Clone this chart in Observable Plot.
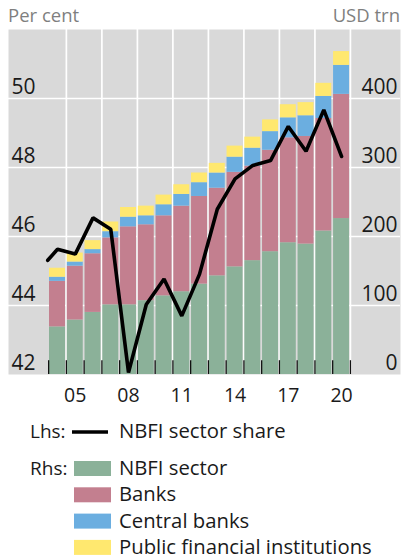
<!DOCTYPE html>
<html><head><meta charset="utf-8">
<script src="https://cdn.jsdelivr.net/npm/d3@7"></script>
<script src="https://cdn.jsdelivr.net/npm/@observablehq/plot@0.6"></script>
<style>
body{margin:0;background:#fff;}
#chart svg{display:block}
</style></head><body><div id="chart"></div>
<script>
// ---- data ----
const years = [2004,2005,2006,2007,2008,2009,2010,2011,2012,2013,2014,2015,2016,2017,2018,2019,2020];
const nbfi    = [69,79,90,101,101,107,114,120,131,143,156,165,178,191,189,208,226];
const banks   = [66,78,85,97,113,110,116,124,127,127,137,137,147,152,156,163,180];
const central = [6,6,6,9,14,13,16,17,20,22,22,26,27,29,30,32,42];
const pfi     = [13,13,13,14,14,14,14,14,14,14,16,16,17,19,19,19,20];
const shareYears = [2003.45,2004,2005,2006,2007,2008,2009,2010,2011,2012,2013,2014,2015,2016,2017,2018,2019,2020];
const share      = [45.31,45.63,45.49,46.54,46.21,42.06,44.03,44.77,43.70,44.91,46.79,47.67,48.06,48.20,49.19,48.47,49.67,48.32];
const seriesNames = ["NBFI sector","Banks","Central banks","Public financial institutions"];
const seriesColors = ["#8bb199","#c37f8f","#6baee0","#ffe86f"];
const lhsTicks = [42,44,46,48,50];
const rhsTicks = [0,100,200,300,400];
const xTickYears = [2005,2008,2011,2014,2017,2020];
const xTickLabels = ["05","08","11","14","17","20"];
const lhsMin = 42, lhsMax = 52, rhsMax = 500;

const FONT = '"Open Sans", "Noto Sans", sans-serif';
const W = 402;
const chart = document.getElementById("chart");

// ---- header ----
const head = d3.create("svg").attr("width", W).attr("height", 29).style("font-family", FONT);
head.append("text").attr("x", 8).attr("y", 22).attr("font-size", 18.5).attr("fill", "#7f7f7f").text("Per cent");
head.append("text").attr("x", 400).attr("y", 22).attr("text-anchor", "end").attr("font-size", 18.5).attr("fill", "#7f7f7f").text("USD trn");
chart.appendChild(head.node());

// ---- build stacked rows ----
const seriesVals = [nbfi, banks, central, pfi];
const rows = [];
years.forEach((yr, i) => {
  let base = 0;
  seriesVals.forEach((arr, k) => {
    rows.push({year: yr, y1: base, y2: base + arr[i], key: seriesNames[k]});
    base += arr[i];
  });
});
const lineRows = shareYears.map((yr, i) => ({year: yr, v: share[i]}));
const toRhs = v => (v - lhsMin) / (lhsMax - lhsMin) * rhsMax;
const gridYears = d3.range(years[0] + 0.5, years[years.length - 1] + 1, 2);
const boundaries = d3.range(years[0] - 0.5, years[years.length - 1] + 1, 1);

const plot = Plot.plot({
  width: W, height: 378,
  marginTop: 0, marginBottom: 33, marginLeft: 8, marginRight: 2,
  x: {type: "linear", domain: [years[0] - 2.76, years[years.length - 1] + 3.32], axis: null},
  y: {domain: [0, rhsMax], axis: null},
  color: {domain: seriesNames, range: seriesColors},
  style: {fontFamily: FONT, background: "transparent", color: "#1a1a1a"},
  marks: [
    Plot.frame({fill: "#d9d9d9", stroke: null}),
    Plot.ruleY(rhsTicks.filter(d => d > 0), {stroke: "#fff", strokeWidth: 1.7}),
    Plot.ruleX(gridYears, {stroke: "#fff", strokeWidth: 1.7}),
    Plot.rect(rows, {x1: d => d.year - 0.45, x2: d => d.year + 0.45, y1: "y1", y2: "y2", fill: "key"}),
    Plot.ruleX(boundaries, {y1: 0, y2: 20, stroke: "#111", strokeWidth: 1.3}),
    Plot.line(lineRows, {x: "year", y: d => toRhs(d.v), stroke: "#000", strokeWidth: 3.6, strokeLinejoin: "miter", clip: true}),
    Plot.text(lhsTicks, {y: d => toRhs(d), text: d => String(d), frameAnchor: "left", textAnchor: "start", lineAnchor: "bottom", dx: 3, dy: -5, fontSize: 21, fill: "#1a1a1a"}),
    Plot.text(rhsTicks, {y: d => d, text: d => String(d), frameAnchor: "right", textAnchor: "end", lineAnchor: "bottom", dx: -3, dy: -5, fontSize: 21, fill: "#1a1a1a"}),
    Plot.text(xTickYears, {x: d => d, text: (d, i) => xTickLabels[i], frameAnchor: "bottom", lineAnchor: "bottom", dy: 27, fontSize: 19.5, fill: "#1a1a1a"})
  ]
});
chart.appendChild(plot);

// ---- legend ----
const leg = d3.create("svg").attr("width", W).attr("height", 152).style("font-family", FONT);
const LF = 20.3, LH = 19;
leg.append("text").attr("x", 30).attr("y", 31).attr("font-size", LH).attr("fill", "#1a1a1a").text("Lhs:");
leg.append("line").attr("x1", 72).attr("x2", 108).attr("y1", 25).attr("y2", 25).attr("stroke", "#000").attr("stroke-width", 3.6);
leg.append("text").attr("x", 119).attr("y", 31).attr("font-size", LF).attr("fill", "#1a1a1a").text("NBFI sector share");
leg.append("text").attr("x", 30).attr("y", 68).attr("font-size", LH).attr("fill", "#1a1a1a").text("Rhs:");
seriesNames.forEach((n, k) => {
  leg.append("rect").attr("x", 74).attr("y", 54 + k * 26.3).attr("width", 37).attr("height", 15).attr("fill", seriesColors[k]);
  leg.append("text").attr("x", 119).attr("y", 68 + k * 26.3).attr("font-size", LF).attr("fill", "#1a1a1a").text(n);
});
chart.appendChild(leg.node());
</script>
</body></html>
